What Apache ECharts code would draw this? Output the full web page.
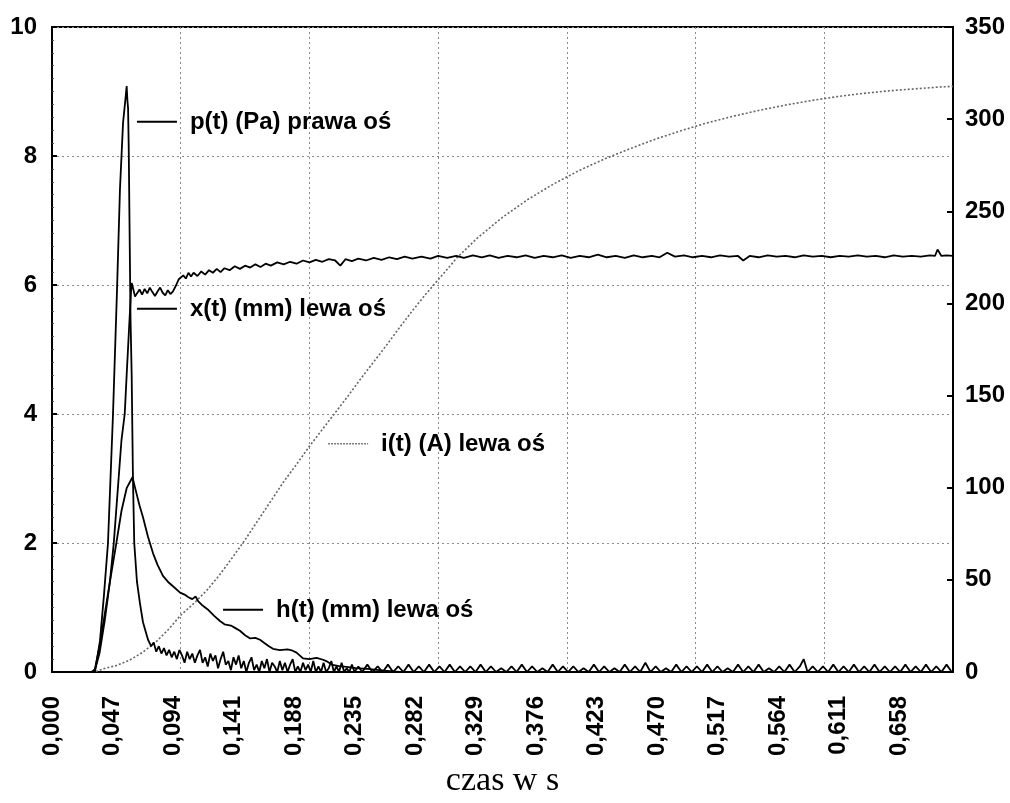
<!DOCTYPE html>
<html>
<head>
<meta charset="utf-8">
<script src="https://cdn.jsdelivr.net/npm/echarts@6/dist/echarts.min.js"></script>
<style>
html,body{margin:0;padding:0;background:#fff;}
#chart{width:1010px;height:803px;}
</style>
</head>
<body>
<div id="chart"></div>
<script>
// ---- Data (time in s) ----
const xLabelStep = 0.047;           // tick labels on the time axis
const gridStep = 0.1;               // vertical grid lines
const leftTicks = [0, 2, 4, 6, 8, 10];
const rightTicks = [0, 50, 100, 150, 200, 250, 300, 350];

// p(t) (Pa) - right axis
const pData = [
[0,0],[0.030,0],[0.0334,0.5],[0.0373,17],[0.0404,42],[0.0435,70],[0.0474,140],[0.0505,207],[0.0528,262],[0.0552,298],
[0.0572,312],[0.0580,318],[0.0586,310],[0.0591,306],[0.0596,285],[0.0602,245],[0.0610,192],[0.0619,161],[0.0629,105],[0.0639,70],
[0.0660,49],[0.0684,37],[0.0707,27],[0.0746,17.5],
[0.077,14],[0.079,16],[0.081,11],[0.083,14],[0.085,10],[0.087,13],[0.089,9],[0.091,12],[0.093,8],[0.095,11],[0.097,7],[0.099,12],
[0.101,9],[0.103,5],[0.105,11],[0.107,7],[0.109,10],[0.111,5],[0.113,9],[0.115,12],[0.117,5],[0.119,8],[0.121,3],[0.123,10],
[0.125,6],[0.127,9],[0.129,2],[0.131,7],[0.133,11],[0.135,4],[0.137,6],[0.139,1],[0.141,8],[0.143,4],[0.145,9],[0.147,2],
[0.149,6],[0.151,0],[0.153,5],[0.155,8],[0.157,1],[0.159,4],[0.161,0],[0.163,6],[0.165,2],[0.167,7],[0.169,0],[0.171,5],
[0.173,3],[0.175,0],[0.177,6],[0.179,1],[0.181,5],[0.183,0],[0.185,4],[0.187,7],[0.189,0],[0.191,3],[0.193,0],[0.195,5],
[0.197,1],[0.199,4],[0.201,0],[0.203,6],[0.205,0],[0.207,3],[0.209,0],[0.211,5],[0.213,0],[0.215,2],[0.217,6],[0.219,0],
[0.221,3],[0.223,0],[0.225,5],[0.227,0],[0.229,2],[0.231,0],[0.233,4],[0.235,0],[0.238,3],[0.241,0],
[0.245,4],[0.249,0],[0.253,3],[0.257,0],[0.261,4],[0.265,0],[0.269,3],[0.273,0],[0.277,4],[0.281,0],[0.285,3],[0.289,0],
[0.293,4],[0.297,0],[0.301,3],[0.305,0],[0.309,4],[0.313,0],[0.317,3],[0.321,0],[0.325,3],[0.329,0],[0.333,4],[0.337,0],
[0.341,3],[0.345,0],[0.349,2],[0.353,0],[0.357,3],[0.361,0],[0.365,4],[0.369,0],[0.373,3],[0.377,0],[0.381,2],[0.385,0],
[0.389,4],[0.393,0],[0.397,3],[0.401,0],[0.405,3],[0.409,0],[0.413,2],[0.417,0],[0.421,4],[0.425,0],[0.429,3],[0.433,0],
[0.437,2],[0.441,0],[0.445,4],[0.449,0],[0.453,3],[0.457,0],[0.461,5],[0.465,0],[0.469,3],[0.473,0],[0.477,2],[0.481,0],
[0.485,4],[0.489,0],[0.493,3],[0.497,0],[0.501,3],[0.505,0],[0.509,4],[0.513,0],[0.517,3],[0.521,0],[0.525,2],[0.529,0],
[0.533,4],[0.537,0],[0.541,3],[0.545,0],[0.549,4],[0.553,0],[0.557,2],[0.561,0],[0.565,3],[0.569,0],[0.573,4],[0.577,0],
[0.581,3],[0.584,7],[0.587,0],[0.591,3],[0.595,0],[0.599,3],[0.603,0],[0.607,4],[0.611,0],[0.615,3],[0.619,0],[0.623,4],
[0.627,0],[0.631,3],[0.635,0],[0.639,4],[0.643,0],[0.647,3],[0.651,0],[0.655,3],[0.659,0],[0.663,4],[0.667,0],[0.671,3],
[0.675,0],[0.679,4],[0.683,0],[0.687,3],[0.691,0],[0.695,4],[0.699,0]
];

// x(t) (mm) - left axis
const xData = [
[0,0],[0.033,0],[0.037,0.3],[0.041,0.8],[0.045,1.4],[0.048,2.0],[0.051,2.8],[0.054,3.6],[0.0565,4.0],[0.058,4.6],
[0.0598,5.3],[0.0614,5.9],[0.0619,6.03],[0.0630,5.95],[0.0645,5.82],[0.066,5.87],[0.068,5.93],[0.070,5.85],[0.072,5.94],
[0.074,5.87],[0.076,5.96],[0.078,5.89],[0.080,5.83],[0.082,5.9],[0.084,5.96],[0.086,5.88],[0.088,5.84],[0.090,5.92],
[0.092,5.86],[0.094,5.9],[0.0965,6.0],[0.0985,6.09],[0.100,6.06],[0.102,6.15],[0.104,6.1],[0.106,6.19],[0.108,6.13],
[0.110,6.19],[0.113,6.14],[0.116,6.21],[0.119,6.16],[0.122,6.23],[0.125,6.19],[0.128,6.25],[0.131,6.2],[0.134,6.26],
[0.138,6.23],[0.142,6.29],[0.146,6.25],[0.150,6.3],[0.154,6.27],[0.158,6.32],[0.162,6.28],[0.166,6.33],[0.170,6.3],
[0.175,6.35],[0.180,6.32],[0.185,6.36],[0.190,6.33],[0.195,6.38],[0.200,6.35],[0.205,6.39],[0.210,6.36],[0.215,6.4],
[0.220,6.38],[0.224,6.3],[0.228,6.4],[0.233,6.37],[0.238,6.41],[0.244,6.38],[0.250,6.42],[0.256,6.39],[0.262,6.43],
[0.268,6.4],[0.274,6.44],[0.280,6.41],[0.287,6.44],[0.294,6.41],[0.300,6.45],[0.307,6.42],[0.314,6.45],[0.320,6.42],
[0.327,6.46],[0.334,6.43],[0.340,6.46],[0.347,6.42],[0.354,6.45],[0.361,6.43],[0.368,6.46],[0.375,6.42],[0.382,6.45],
[0.389,6.43],[0.396,6.46],[0.403,6.42],[0.410,6.45],[0.417,6.43],[0.424,6.47],[0.431,6.43],[0.438,6.45],[0.445,6.42],
[0.452,6.46],[0.459,6.43],[0.466,6.45],[0.472,6.43],[0.478,6.5],[0.484,6.44],[0.491,6.46],[0.498,6.43],[0.505,6.45],
[0.512,6.43],[0.519,6.46],[0.526,6.44],[0.533,6.45],[0.537,6.38],[0.542,6.45],[0.549,6.43],[0.556,6.46],[0.563,6.44],
[0.570,6.45],[0.577,6.43],[0.584,6.46],[0.591,6.44],[0.598,6.45],[0.605,6.43],[0.612,6.45],[0.619,6.44],[0.626,6.46],
[0.633,6.44],[0.640,6.45],[0.647,6.43],[0.654,6.46],[0.661,6.44],[0.668,6.45],[0.675,6.44],[0.682,6.46],[0.686,6.45],
[0.688,6.55],[0.691,6.45],[0.695,6.46],[0.700,6.45]
];

// h(t) (mm) - left axis
const hData = [
[0,0],[0.031,0],[0.0334,0.05],[0.037,0.4],[0.041,0.9],[0.045,1.4],[0.050,2.0],[0.054,2.5],[0.058,2.85],[0.0625,3.02],
[0.065,2.82],[0.068,2.58],[0.0707,2.4],[0.0745,2.1],[0.0785,1.84],[0.082,1.66],[0.0862,1.49],[0.090,1.4],[0.094,1.33],
[0.0995,1.23],[0.103,1.2],[0.106,1.16],[0.109,1.13],[0.1115,1.17],[0.1135,1.1],[0.117,1.03],[0.121,0.97],[0.126,0.87],
[0.1305,0.79],[0.134,0.74],[0.139,0.72],[0.1425,0.68],[0.146,0.64],[0.150,0.57],[0.154,0.52],[0.158,0.53],[0.1616,0.5],
[0.165,0.45],[0.1685,0.4],[0.1717,0.36],[0.177,0.34],[0.183,0.35],[0.187,0.33],[0.190,0.3],[0.195,0.21],[0.200,0.2],
[0.2055,0.22],[0.2106,0.19],[0.214,0.16],[0.218,0.11],[0.223,0.09],[0.229,0.08],[0.236,0.06],[0.245,0.05],[0.258,0.02],
[0.270,0],[0.700,0]
];

// i(t) (A) - left axis
const iData = [
[0,0],[0.033,0],[0.04,0.05],[0.05,0.1],[0.06,0.18],[0.07,0.3],[0.08,0.45],[0.09,0.65],[0.1,0.88],[0.11,1.06],
[0.12,1.26],[0.13,1.5],[0.14,1.77],[0.15,2.05],[0.16,2.35],[0.17,2.65],[0.18,2.95],[0.19,3.22],[0.2,3.5],[0.21,3.76],
[0.22,4.02],[0.23,4.28],[0.24,4.55],[0.25,4.81],[0.26,5.07],[0.27,5.34],[0.28,5.6],[0.29,5.85],[0.3,6.08],[0.315,6.43],
[0.33,6.72],[0.35,7.05],[0.37,7.33],[0.39,7.57],[0.41,7.78],[0.43,7.96],[0.45,8.12],[0.47,8.27],[0.49,8.4],[0.51,8.52],
[0.53,8.62],[0.55,8.71],[0.57,8.79],[0.59,8.86],[0.61,8.92],[0.63,8.97],[0.65,9.01],[0.67,9.04],[0.69,9.07],[0.70,9.08]
];

// In-plot annotations: anchor of the key line start, in data coords (t, left-axis value)
const annotations = [
  {text: 'p(t) (Pa) prawa oś', t: 0.066, v: 8.53, dotted: false},
  {text: 'x(t) (mm) lewa oś', t: 0.066, v: 5.63, dotted: false},
  {text: 'i(t) (A) lewa oś', t: 0.2145, v: 3.54, dotted: true},
  {text: 'h(t) (mm) lewa oś', t: 0.1329, v: 0.966, dotted: false}
];

const chart = echarts.init(document.getElementById('chart'), null, {renderer: 'canvas'});
const labelFont = {fontFamily: 'Liberation Sans, Arial, sans-serif', fontWeight: 'bold', fontSize: 24, color: '#000'};
const black = '#000';
const gridLine = {show: true, lineStyle: {color: '#8a8a8a', type: [2, 3], width: 1}};

chart.setOption({
  animation: false,
  backgroundColor: '#fff',
  grid: {left: 52, right: 57, top: 27, bottom: 123, show: true, borderColor: black, borderWidth: 2, containLabel: false},
  xAxis: [
    {type: 'value', min: 0, max: 0.7, interval: gridStep, position: 'bottom',
     axisLine: {show: true, onZero: false, lineStyle: {color: black, width: 2}},
     axisTick: {show: false}, axisLabel: {show: false}, splitLine: gridLine},
    {type: 'value', min: 0, max: 0.7, interval: xLabelStep, position: 'bottom',
     axisLine: {show: false, onZero: false}, axisTick: {show: false}, splitLine: {show: false},
     axisLabel: Object.assign({rotate: 90, margin: 24, showMaxLabel: false,
       formatter: v => v.toFixed(3).replace('.', ',')}, labelFont),
     name: 'czas w s', nameLocation: 'middle', nameGap: 92,
     nameTextStyle: {fontFamily: 'Liberation Serif, Times New Roman, serif', fontSize: 34, color: black}}
  ],
  yAxis: [
    {type: 'value', min: leftTicks[0], max: leftTicks[leftTicks.length - 1], interval: 2, position: 'left',
     axisLine: {show: true, onZero: false, lineStyle: {color: black, width: 2}},
     axisTick: {show: true, inside: true, length: 5, lineStyle: {color: black, width: 2}},
     minorTick: {show: true, splitNumber: 10, length: 2, lineStyle: {color: '#555', width: 1}},
     axisLabel: Object.assign({margin: 15}, labelFont), splitLine: gridLine},
    {type: 'value', min: rightTicks[0], max: rightTicks[rightTicks.length - 1], interval: 50, position: 'right',
     axisLine: {show: true, onZero: false, lineStyle: {color: black, width: 2}},
     axisTick: {show: true, inside: true, length: 6, lineStyle: {color: black, width: 2}},
     axisLabel: Object.assign({margin: 12}, labelFont), splitLine: {show: false}}
  ],
  series: [
    {name: 'i(t)', type: 'line', xAxisIndex: 0, yAxisIndex: 0, data: iData, showSymbol: false,
     lineStyle: {color: '#666', width: 1.6, type: [2, 2]}, z: 2},
    {name: 'h(t)', type: 'line', xAxisIndex: 0, yAxisIndex: 0, data: hData, showSymbol: false,
     lineStyle: {color: black, width: 1.8}, z: 3},
    {name: 'x(t)', type: 'line', xAxisIndex: 0, yAxisIndex: 0, data: xData, showSymbol: false,
     lineStyle: {color: black, width: 1.8}, z: 3},
    {name: 'p(t)', type: 'line', xAxisIndex: 0, yAxisIndex: 1, data: pData, showSymbol: false,
     lineStyle: {color: black, width: 1.8}, z: 3}
  ]
});

// Place annotation keys and texts from data coordinates
const graphics = [];
annotations.forEach(a => {
  const pt = chart.convertToPixel({xAxisIndex: 0, yAxisIndex: 0}, [a.t, a.v]);
  graphics.push({type: 'line', shape: {x1: pt[0], y1: pt[1], x2: pt[0] + 40, y2: pt[1]},
    style: {stroke: a.dotted ? '#7a7a7a' : black, lineWidth: a.dotted ? 1.5 : 2, lineDash: a.dotted ? [2, 1] : null}, z: 10});
  graphics.push({type: 'text', x: pt[0] + 53, y: pt[1] + 1,
    style: {text: a.text, fill: black, font: 'bold 24px "Liberation Sans", Arial, sans-serif', textVerticalAlign: 'middle', verticalAlign: 'middle'}, z: 10});
});
chart.setOption({graphic: graphics});
</script>
</body>
</html>
